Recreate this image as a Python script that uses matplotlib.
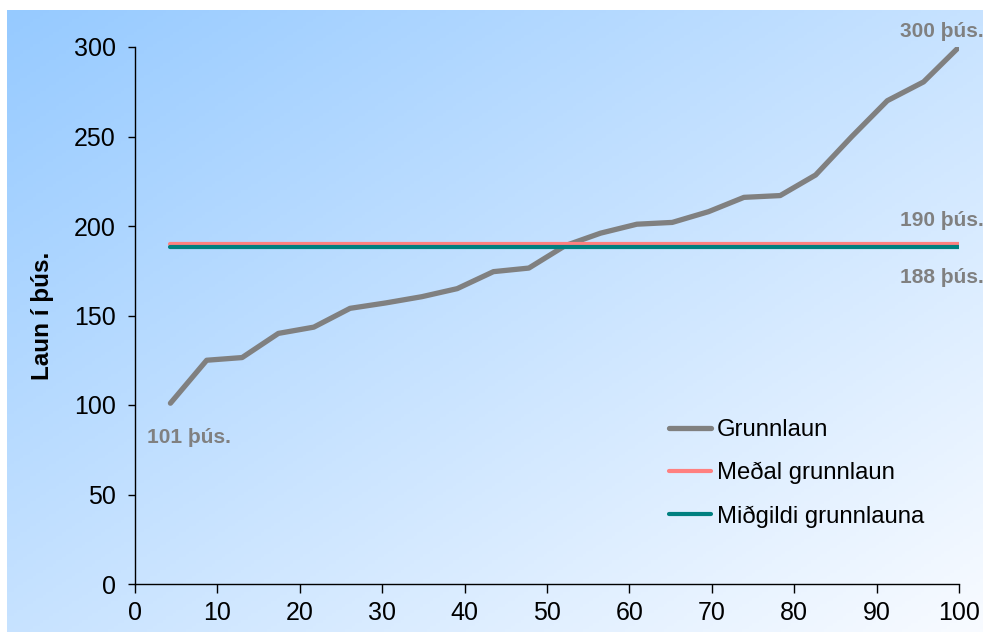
import numpy as np
import matplotlib
matplotlib.use("Agg")
import matplotlib.pyplot as plt

plt.rcParams['font.family'] = ['Liberation Sans', 'DejaVu Sans']

# Data
pct = [4.3, 8.7, 13.0, 17.4, 21.7, 26.1, 30.4, 34.8, 39.1, 43.5, 47.8, 52.2,
       56.5, 60.9, 65.2, 69.6, 73.9, 78.3, 82.6, 87.0, 91.3, 95.7, 100.0]
grunnlaun = [101, 125, 126.5, 140, 143.5, 154, 157, 160.5, 165, 174.5, 176.5, 189,
             196, 201, 202, 208, 216, 217, 228.5, 250, 270, 280.5, 300]
medal = 190
midgildi = 188
labels = ["Grunnlaun", "Meðal grunnlaun", "Miðgildi grunnlauna"]
x_ticks = [0, 10, 20, 30, 40, 50, 60, 70, 80, 90, 100]
y_ticks = [0, 50, 100, 150, 200, 250, 300]

W, H = 983, 641
fig = plt.figure(figsize=(W / 100, H / 100), dpi=100)

# gradient background panel
bg = fig.add_axes([7 / W, (H - 632) / H, (W - 7) / W, (632 - 10) / H])
gx, gy = np.meshgrid(np.linspace(0, 1, 300), np.linspace(0, 1, 200))
t = (gx + gy) / 2
c0 = np.array([150, 202, 255]) / 255
c1 = np.array([248, 251, 255]) / 255
img = c0[None, None, :] * (1 - t[..., None]) + c1[None, None, :] * t[..., None]
bg.imshow(img, aspect='auto', extent=(0, 1, 0, 1), origin='upper')
bg.axis('off')
bg.set_zorder(-1)

ax = fig.add_axes([135 / W, (H - 584) / H, 824 / W, 537 / H])
ax.patch.set_alpha(0)

ax.plot(pct, grunnlaun, color='#808080', lw=3.8, solid_capstyle='round', label=labels[0])
ax.plot([pct[0], pct[-1]], [medal, medal], color='#FF8080', lw=3, solid_capstyle='round', label=labels[1])
ax.plot([pct[0], pct[-1]], [midgildi, midgildi], color='#008080', lw=3, solid_capstyle='round', label=labels[2])

ax.set_xlim(0, 100)
ax.set_ylim(0, 300)
ax.set_xticks(x_ticks)
ax.set_yticks(y_ticks)
for s in ['top', 'right']:
    ax.spines[s].set_visible(False)
for s in ['left', 'bottom']:
    ax.spines[s].set_linewidth(1)
ax.tick_params(axis='x', length=6.5, width=1, pad=5.5, labelsize=18)
ax.tick_params(axis='y', length=5, width=1, pad=9, labelsize=18)
ax.set_ylabel("Laun í þús.", fontsize=17.5, fontweight='bold', labelpad=14)

ann = dict(color='#808080', fontsize=15, fontweight='bold', va='center', ha='left')
ax.text(1.4, 81.6, "101 þús.", **ann)
ax.text(92.8, 203, "190 þús.", **ann)
ax.text(92.8, 171.5, "188 þús.", **ann)
ax.text(92.8, 308.5, "300 þús.", clip_on=False, **ann)

ax.legend(loc='upper left', bbox_to_anchor=(669 / W, (H - 419) / H),
          bbox_transform=fig.transFigure, frameon=False, fontsize=17.2,
          borderpad=0, borderaxespad=0, handlelength=1.75, handletextpad=0.25,
          labelspacing=0.88)

fig.savefig("out.png", dpi=100)
